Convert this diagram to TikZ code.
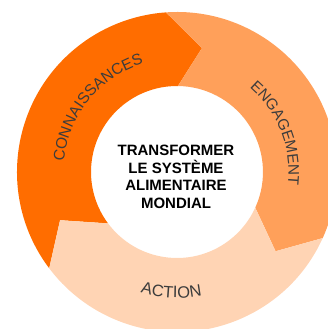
\documentclass[tikz,border=0pt]{standalone}
\usepackage{fontspec}
\setmainfont{Liberation Sans}
\newfontfamily\labelfont{Liberation Sans}
\newfontfamily\hubfont{Liberation Sans}[BoldFont=* Bold]
\usetikzlibrary{decorations.text}
\definecolor{darkor}{RGB}{255,109,0}
\definecolor{midor}{RGB}{255,160,90}
\definecolor{paleor}{RGB}{255,212,180}
\definecolor{labelgray}{RGB}{60,60,60}
\tikzset{
  segment/.style={draw=none},
  arclabel/.style={decorate, decoration={text along path, text align=center, text color=labelgray}},
  hub/.style={align=center, inner sep=0pt, text=black, font=\hubfont\bfseries\fontsize{15}{17.5}\selectfont}
}
\begin{document}
\begin{tikzpicture}[x=1pt,y=1pt]
\useasboundingbox (-177,-157) rectangle (151,172);
% CONNAISSANCES segment
\fill[segment, darkor] (217:160) arc[start angle=217, end angle=94, radius=160]
  -- (78.6:126.5) -- (89.4:86) arc[start angle=89.4, end angle=216.7, radius=86]
  -- (202.4:126.5) -- cycle;
% ENGAGEMENT segment
\fill[segment, midor] (94:160) arc[start angle=94, end angle=-24.4, radius=160]
  -- (-38.8:126.5) -- (-24.5:86) arc[start angle=-24.5, end angle=89.4, radius=86]
  -- (78.6:126.5) -- cycle;
% ACTION segment
\fill[segment, paleor] (335.6:160) arc[start angle=335.6, end angle=217, radius=160]
  -- (202.4:126.5) -- (216.7:86) arc[start angle=216.7, end angle=335.5, radius=86]
  -- (321.2:126.5) -- cycle;
% arc labels
\path[arclabel, decoration={text={|\labelfont\fontsize{15.5}{18}\selectfont|CONNAISSANCES}}]
  (201:113.5) arc[start angle=201, end angle=81, radius=113.5];
\path[arclabel, decoration={text={|\labelfont\fontsize{15.3}{18}\selectfont|ENGAGEMENT}}]
  (81.4:111.5) arc[start angle=81.4, end angle=-38.6, radius=111.5];
\path[arclabel, decoration={text={|\labelfont\fontsize{16.5}{18}\selectfont|ACTION}}]
  (207.3:126) arc[start angle=207.3, end angle=327.3, radius=126];
% hub text
\node[hub] (hubtext) at (-1,-4.6) {TRANSFORMER\\LE SYSTÈME\\ALIMENTAIRE\\MONDIAL};
\end{tikzpicture}
\end{document}
